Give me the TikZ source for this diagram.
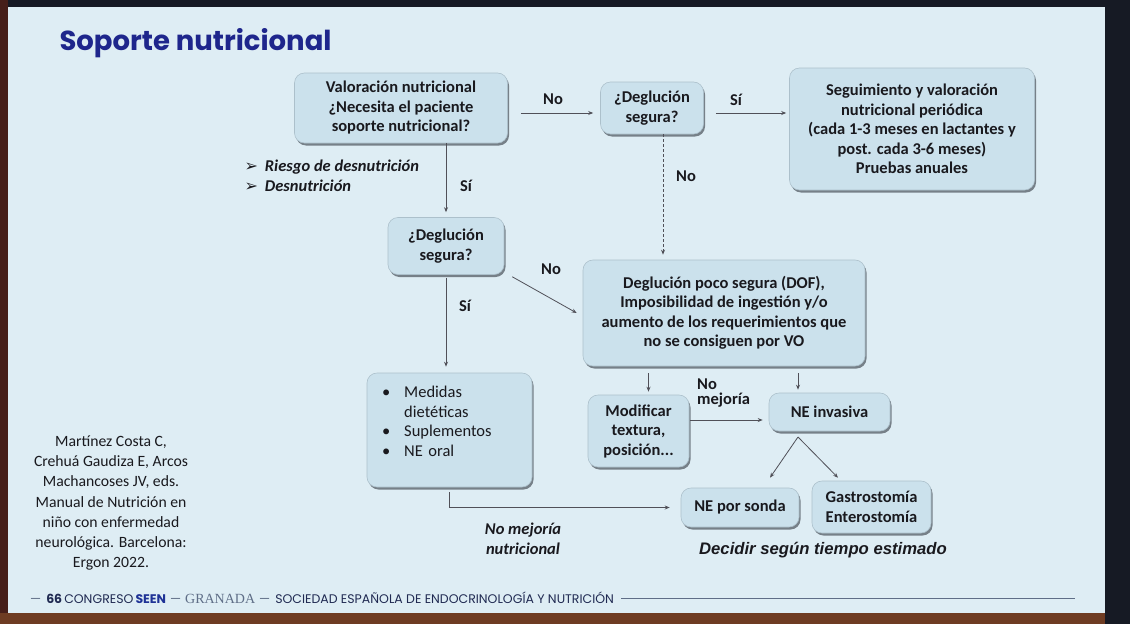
\documentclass[tikz,border=0pt]{standalone}
\usepackage{fontspec}
\setmainfont{Carlito}
\newfontfamily\titlefont{Poppins}
\newfontfamily\arialfont{Liberation Sans}
\newfontfamily\symfont{DejaVu Sans}
\newfontfamily\granadafont{Liberation Serif}
\usetikzlibrary{arrows.meta,shadows}
\newcommand\arrowmark{{\symfont\mdseries\upshape\fontsize{16}{20}\selectfont ➢}}
\definecolor{slidebg}{RGB}{222,237,244}
\definecolor{boxfill}{RGB}{203,225,236}
\definecolor{boxedge}{RGB}{172,192,203}
\definecolor{shadowgray}{RGB}{100,110,118}
\definecolor{titleblue}{RGB}{30,38,140}
\definecolor{inkdark}{RGB}{25,25,30}
\definecolor{arrowgray}{RGB}{80,80,88}
\definecolor{framedark}{RGB}{22,26,36}
\definecolor{frameleft}{RGB}{70,30,25}
\definecolor{framebrown}{RGB}{110,60,35}
\definecolor{footnavy}{RGB}{32,42,82}
\definecolor{footgray}{RGB}{95,110,135}
\definecolor{seenblue}{RGB}{30,50,150}
\tikzset{
  fbox/.style={draw=boxedge,line width=0.6pt,fill=boxfill,rounded corners=10pt,align=center,inner sep=4pt,
    font=\bfseries\fontsize{16.5}{19.5}\selectfont,text=inkdark,
    drop shadow={shadow xshift=1.5pt,shadow yshift=-2.5pt,fill=shadowgray,opacity=0.85}},
  flow/.style={-{Stealth[length=5pt,width=4pt]},line width=0.8pt,draw=arrowgray},
  flowdash/.style={flow,densely dashed},
  lbl/.style={font=\bfseries\fontsize{16.5}{17}\selectfont,text=inkdark},
  notelbl/.style={font=\bfseries\itshape\fontsize{16.5}{20}\selectfont,text=inkdark,align=left}
}
\begin{document}
\begin{tikzpicture}[x=1pt,y=-1pt]
  \useasboundingbox (0,0) rectangle (1130,624);
  \fill[framedark] (0,0) rectangle (1130,624);
  \fill[frameleft] (0,0) rectangle (8,624);
  \fill[framebrown] (0,613) rectangle (1105,624);
  \fill[slidebg] (8,7) rectangle (1105,613);
  \node[anchor=west,font=\titlefont\bfseries\fontsize{27.5}{30}\selectfont,text=titleblue] (title) at (56,43) {Soporte nutricional};
  \node[fbox,minimum width=213pt,minimum height=70pt] (val) at (401,108) {Valoración nutricional\\¿Necesita el paciente\\soporte nutricional?};
  \node[fbox,minimum width=103pt,minimum height=52pt] (deg1) at (652,108) {¿Deglución\\segura?};
  \node[fbox,minimum width=245pt,minimum height=122pt] (seg) at (912,129) {Seguimiento y valoración\\nutricional periódica\\(cada 1-3 meses en lactantes y\\post. cada 3-6 meses)\\Pruebas anuales};
  \node[fbox,minimum width=116pt,minimum height=57pt] (deg2) at (446,246) {¿Deglución\\segura?};
  \node[fbox,minimum width=282pt,minimum height=106pt] (dof) at (724,313) {Deglución poco segura (DOF),\\Imposibilidad de ingestión y/o\\aumento de los requerimientos que\\no se consiguen por VO};
  \node[fbox,font=\mdseries\fontsize{16.5}{19.5}\selectfont,minimum height=114pt,text width=135pt,inner xsep=15pt,align=left] (med) at (449.5,430)
    {\begin{tabular}{@{}l@{\hspace{14pt}}l@{}}\textbullet&Medidas\\&dietéticas\\\textbullet&Suplementos\\\textbullet&NE oral\\[14pt]\end{tabular}};
  \node[fbox,minimum width=101pt,minimum height=72pt] (mod) at (638.5,431) {Modificar\\textura,\\posición...};
  \node[fbox,minimum width=121pt,minimum height=38pt] (nei) at (829.5,412) {NE invasiva};
  \node[fbox,minimum width=118pt,minimum height=39pt] (nes) at (740,507.5) {NE por sonda};
  \node[fbox,minimum width=119pt,minimum height=52pt] (gas) at (871.5,507) {Gastrostomía\\Enterostomía};
  \coordinate (split) at (798,437);
  \draw[flow,shorten <=13pt,shorten >=7pt] ([yshift=-5pt]val.east) -- ([yshift=-5pt]deg1.west);
  \draw[flow,shorten <=12pt,shorten >=3pt] ([yshift=-5pt]deg1.east) -- ([yshift=-5pt]deg1.east -| seg.west);
  \draw[flow,shorten >=5pt] (val.south -| deg2.north) -- (deg2.north);
  \draw[flowdash,shorten >=5pt] ([xshift=11pt]deg1.south) -- ([xshift=11pt]deg1.south |- dof.north);
  \draw[flow] ([shift={(8pt,-2pt)}]deg2.south east) -- ([shift={(-6pt,0pt)}]dof.west);
  \draw[flow,shorten <=3pt,shorten >=6pt] (deg2.south) -- (deg2.south |- med.north);
  \draw[flow,shorten <=7pt,shorten >=3pt] ([xshift=10pt]mod.north |- dof.south) -- ([xshift=10pt]mod.north);
  \draw[flow,shorten <=7pt,shorten >=3pt] ([xshift=-31.5pt]nei.north |- dof.south) -- ([xshift=-31.5pt]nei.north);
  \draw[flow,shorten <=1pt,shorten >=6pt] ([yshift=11pt]mod.east) -- ([yshift=11pt]mod.east -| nei.west);
  \draw[flow] (split) -- ([shift={(30pt,10pt)}]nes.north);
  \draw[flow] (split) -- ([shift={(-33.5pt,3pt)}]gas.north);
  \draw[flow,shorten <=5pt,shorten >=11pt] (med.south) |- (nes.west);
  \node[lbl] (lno1) at (553,99) {No};
  \node[lbl] (lsi1) at (736,100) {Sí};
  \node[lbl] (lsi2) at (466,186) {Sí};
  \node[lbl] (lno2) at (686,176) {No};
  \node[lbl] (lno3) at (551,269) {No};
  \node[lbl] (lsi3) at (465,306) {Sí};
  \node[lbl,align=left,font=\bfseries\fontsize{16.5}{15.5}\selectfont,anchor=west,inner sep=1pt] (lnomej) at (696,393) {No\\mejoría};
  \node[notelbl,anchor=west] (riesgo) at (241,176) {\arrowmark\hspace{7pt}Riesgo de desnutrición\\\arrowmark\hspace{7pt}Desnutrición};
  \node[notelbl,align=center] (nomejnut) at (523,539) {No mejoría\\nutricional};
  \node[font=\arialfont\bfseries\itshape\fontsize{16.7}{17}\selectfont,text=inkdark] (decidir) at (823,550) {Decidir según tiempo estimado};
  \node[align=center,font=\fontsize{15.7}{20.1}\selectfont,text=inkdark] (cita) at (111,503) {Martínez Costa C,\\Crehuá Gaudiza E, Arcos\\Machancoses JV, eds.\\Manual de Nutrición en\\niño con enfermedad\\neurológica. Barcelona:\\Ergon 2022.};
  \node[anchor=west,inner sep=0pt,font=\titlefont\fontsize{12.5}{13}\selectfont,text=footnavy] (footer) at (30,598)
    {{\color{footgray}—}\hspace{5pt}{\bfseries 66}\,CONGRESO\,{\bfseries\color{seenblue}SEEN}\hspace{4pt}{\color{footgray}—}\hspace{4pt}{\granadafont\color{footgray}\fontsize{14}{13}\selectfont GRANADA}\hspace{4pt}{\color{footgray}—}\hspace{5pt}SOCIEDAD ESPAÑOLA DE ENDOCRINOLOGÍA Y NUTRICIÓN};
  \draw[footgray,line width=0.7pt] ([xshift=7pt]footer.east) -- (1075,598);
\end{tikzpicture}
\end{document}
